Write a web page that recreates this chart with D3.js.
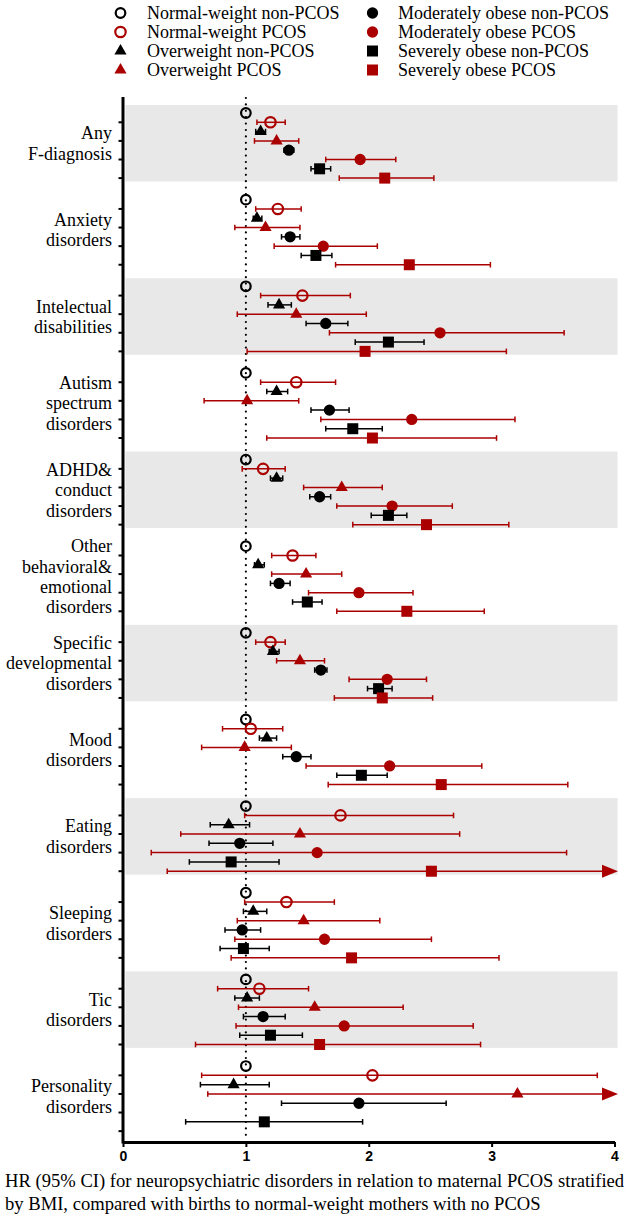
<!DOCTYPE html>
<html><head><meta charset="utf-8">
<script src="https://cdn.jsdelivr.net/npm/d3@7"></script>
<style>body{margin:0;background:#fff}svg{display:block}</style>
</head><body><svg id="c" width="633" height="1218"></svg>
<script>
// ---- data ----
const categories = [
  "Any\nF-diagnosis", "Anxiety\ndisorders", "Intelectual\ndisabilities",
  "Autism\nspectrum\ndisorders", "ADHD&\nconduct\ndisorders",
  "Other\nbehavioral&\nemotional\ndisorders", "Specific\ndevelopmental\ndisorders",
  "Mood\ndisorders", "Eating\ndisorders", "Sleeping\ndisorders", "Tic\ndisorders",
  "Personality\ndisorders"
];
const seriesNames = [
  "Normal-weight non-PCOS", "Normal-weight PCOS", "Overweight non-PCOS", "Overweight PCOS",
  "Moderately obese non-PCOS", "Moderately obese PCOS", "Severely obese non-PCOS", "Severely obese PCOS"
];
// HR per category (rows follow seriesNames order); null = not shown
const hr = [
  [1, 1.20, 1.12, 1.25, 1.35, 1.93, 1.60, 2.13],
  [1, 1.26, 1.09, 1.16, 1.36, 1.63, 1.57, 2.33],
  [1, 1.46, 1.27, 1.41, 1.65, 2.58, 2.16, 1.97],
  [1, 1.41, 1.25, 1.01, 1.68, 2.35, 1.87, 2.03],
  [1, 1.14, 1.25, 1.78, 1.60, 2.19, 2.16, 2.47],
  [1, 1.38, 1.10, 1.49, 1.27, 1.92, 1.50, 2.31],
  [1, 1.20, 1.22, 1.44, 1.61, 2.15, 2.08, 2.11],
  [1, 1.04, 1.17, 0.99, 1.41, 2.17, 1.94, 2.59],
  [1, 1.77, 0.86, 1.44, 0.95, 1.58, 0.88, 2.51],
  [1, 1.33, 1.06, 1.47, 0.97, 1.64, 0.98, 1.86],
  [1, 1.11, 1.01, 1.56, 1.14, 1.80, 1.20, 1.60],
  [1, 2.03, 0.90, 3.21, 1.92, null, 1.15, null]
];
// lower 95% CI
const ciLow = [
  [null, 1.09, 1.08, 1.07, 1.31, 1.65, 1.53, 1.76],
  [null, 1.08, 1.06, 0.91, 1.29, 1.23, 1.45, 1.73],
  [null, 1.12, 1.18, 0.93, 1.49, 1.68, 1.89, 1.01],
  [null, 1.12, 1.17, 0.66, 1.53, 1.61, 1.65, 1.17],
  [null, 0.97, 1.20, 1.47, 1.52, 1.74, 2.02, 1.87],
  [null, 1.21, 1.07, 1.21, 1.20, 1.51, 1.38, 1.74],
  [null, 1.08, 1.19, 1.25, 1.56, 1.84, 1.99, 1.72],
  [null, 0.81, 1.11, 0.64, 1.30, 1.49, 1.74, 1.67],
  [null, 0.99, 0.71, 0.47, 0.70, 0.23, 0.54, 0.36],
  [null, 0.99, 0.98, 0.93, 0.83, 0.91, 0.79, 0.88],
  [null, 0.77, 0.91, 0.94, 0.98, 0.92, 0.95, 0.59],
  [null, 0.64, 0.63, 0.69, 1.29, null, 0.51, null]
];
// upper 95% CI (Infinity = beyond axis, drawn as arrow)
const ciHigh = [
  [null, 1.32, 1.16, 1.43, 1.39, 2.22, 1.69, 2.53],
  [null, 1.45, 1.13, 1.44, 1.44, 2.07, 1.70, 2.99],
  [null, 1.85, 1.37, 1.98, 1.83, 3.59, 2.45, 3.12],
  [null, 1.73, 1.34, 1.43, 1.84, 3.19, 2.11, 3.04],
  [null, 1.32, 1.30, 2.11, 1.69, 2.68, 2.31, 3.14],
  [null, 1.57, 1.15, 1.78, 1.36, 2.36, 1.62, 2.94],
  [null, 1.32, 1.27, 1.64, 1.66, 2.47, 2.19, 2.52],
  [null, 1.30, 1.25, 1.37, 1.53, 2.92, 2.15, 3.62],
  [null, 2.69, 1.03, 2.74, 1.22, 3.61, 1.27, Infinity],
  [null, 1.72, 1.17, 2.09, 1.12, 2.51, 1.19, 3.06],
  [null, 1.51, 1.11, 2.28, 1.32, 2.85, 1.46, 2.91],
  [null, 3.86, 1.19, Infinity, 2.63, null, 1.95, null]
];
const xTicks = [0, 1, 2, 3, 4];
const captionLines = [
  "HR (95% CI) for neuropsychiatric disorders in relation to maternal PCOS stratified",
  "by BMI, compared with births to normal-weight mothers with no PCOS"
];

// ---- styling ----
const RED = "#aa0000", BLACK = "#000";
const serif = "'Liberation Serif','Times New Roman',serif";
const sans = "'Liberation Sans',Arial,sans-serif";
const svg = d3.select("#c");

const x = d3.scaleLinear().domain([0, 4]).range([123, 614.5]);
const groupY = d3.scaleBand().domain(d3.range(categories.length)).range([105, 105 + 12 * 86.64]);
const rowY = d3.scaleLinear().domain([0, 7]).range([8, 73.1]);
const yPos = (g, j) => groupY(g) + rowY(j);

const isRed = j => j % 2 === 1;
const shapeOf = j => (j < 2 ? "open" : j < 4 ? "tri" : j < 6 ? "circle" : "square");

function drawMarker(sel, j, cx, cy) {
  const col = isRed(j) ? RED : BLACK;
  const s = shapeOf(j);
  if (s === "open") {
    sel.append("circle").attr("cx", cx).attr("cy", cy).attr("r", j === 0 ? 4.8 : 5.2)
      .attr("fill", "none").attr("stroke", col).attr("stroke-width", 2.2);
  } else {
    const type = s === "tri" ? d3.symbolTriangle : s === "circle" ? d3.symbolCircle : d3.symbolSquare;
    const size = s === "tri" ? 64 : s === "circle" ? 100 : 121;
    sel.append("path").attr("d", d3.symbol().type(type).size(size)())
      .attr("transform", `translate(${cx},${cy})`).attr("fill", col);
  }
}

// bands
const bandG = svg.append("g");
categories.forEach((c, g) => {
  if (g % 2 === 0) {
    bandG.append("rect").attr("x", 125.5).attr("y", groupY(g))
      .attr("width", x(4) + 3 - 125.5).attr("height", 76.5).attr("fill", "#e8e8e8");
  }
});

// reference dotted line
svg.append("line").attr("x1", x(1)).attr("x2", x(1)).attr("y1", 98).attr("y2", 1141)
  .attr("stroke", BLACK).attr("stroke-width", 2.2).attr("stroke-linecap", "round")
  .attr("stroke-dasharray", "0 6.4");

// axes
const yAxisG = svg.append("g");
yAxisG.append("line").attr("x1", 123).attr("x2", 123).attr("y1", 97).attr("y2", 1143.5)
  .attr("stroke", BLACK).attr("stroke-width", 3);
categories.forEach((c, g) => {
  [1, 3, 5, 7].forEach(j => {
    yAxisG.append("line").attr("x1", 118.5).attr("x2", 123).attr("y1", yPos(g, j)).attr("y2", yPos(g, j))
      .attr("stroke", BLACK).attr("stroke-width", 2);
  });
});
const xAxis = svg.append("g").attr("transform", "translate(0,1142)")
  .call(d3.axisBottom(x).tickValues(xTicks).tickSize(5).tickSizeOuter(0).tickFormat(d3.format("d")));
xAxis.select(".domain").attr("stroke-width", 3);
xAxis.selectAll(".tick line").attr("stroke-width", 2);
xAxis.selectAll(".tick text").attr("font-family", sans).attr("font-weight", "bold")
  .attr("font-size", 14).attr("fill", BLACK).attr("dy", "0.78em");

// category labels
categories.forEach((c, g) => {
  const lines = c.split("\n");
  const mid = yPos(g, 3.5);
  const t = svg.append("text").attr("text-anchor", "end").attr("font-family", serif)
    .attr("font-size", 18).attr("fill", BLACK);
  lines.forEach((ln, i) => {
    t.append("tspan").attr("x", 112).attr("y", mid + (i - (lines.length - 1) / 2) * 20.4 + 4).text(ln);
  });
});

// error bars + markers
const markG = svg.append("g");
categories.forEach((c, g) => {
  seriesNames.forEach((s, j) => {
    const v = hr[g][j];
    if (v == null) return;
    const lo = ciLow[g][j], hi = ciHigh[g][j];
    const cy = yPos(g, j);
    const col = isRed(j) ? RED : BLACK;
    if (lo != null && hi != null) {
      const beyond = !isFinite(hi);
      const tipX = x(4) + 3.5;
      const xe = beyond ? tipX - 16 : x(hi);
      markG.append("line").attr("x1", x(lo)).attr("x2", xe).attr("y1", cy).attr("y2", cy)
        .attr("stroke", col).attr("stroke-width", 1.5);
      markG.append("line").attr("x1", x(lo)).attr("x2", x(lo)).attr("y1", cy - 2.8).attr("y2", cy + 2.8)
        .attr("stroke", col).attr("stroke-width", 1.5);
      if (beyond) {
        markG.append("path").attr("d", `M${tipX - 16},${cy - 6.5}L${tipX},${cy}L${tipX - 16},${cy + 6.5}Z`)
          .attr("fill", col);
      } else {
        markG.append("line").attr("x1", x(hi)).attr("x2", x(hi)).attr("y1", cy - 2.8).attr("y2", cy + 2.8)
          .attr("stroke", col).attr("stroke-width", 1.5);
      }
    }
    drawMarker(markG, j, x(v), cy);
  });
});

// legend
const legG = svg.append("g");
seriesNames.forEach((s, j) => {
  const c = j < 4 ? 0 : 1;
  const r = j % 4;
  const sx = c === 0 ? 120.5 : 372.5;
  const tx = c === 0 ? 147 : 398;
  const cy = 13 + r * 19;
  drawMarker(legG, j, sx, cy);
  legG.append("text").attr("x", tx).attr("y", cy + 6).attr("font-family", serif)
    .attr("font-size", 18).attr("fill", BLACK).text(s);
});

// caption
captionLines.forEach((ln, i) => {
  svg.append("text").attr("x", 5).attr("y", 1187 + i * 22.5).attr("font-family", serif)
    .attr("font-size", 18.6).attr("fill", BLACK).text(ln);
});
</script></body></html>
